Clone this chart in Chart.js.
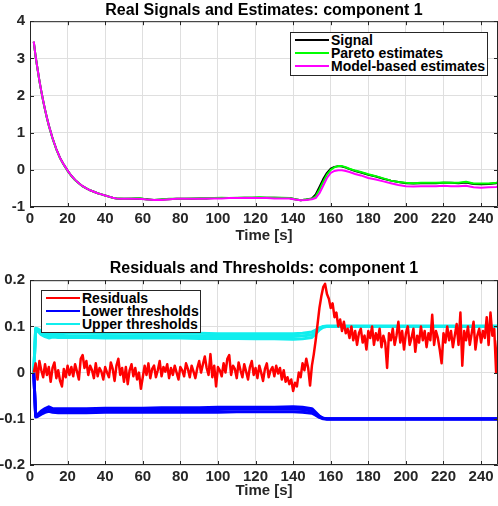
<!DOCTYPE html>
<html>
<head>
<meta charset="utf-8">
<script src="https://cdn.jsdelivr.net/npm/chart.js@4/dist/chart.umd.min.js"></script>
<style>
    body { margin: 0; background: #fff; }
    .painel { position: absolute; left: 0; width: 498px; height: 253px; }
    .legenda { position: absolute; box-sizing: border-box; border: 1px solid #262626; background: #fff;
               font: bold 14px "Liberation Sans", Arial, sans-serif; color: #000; }
    .legenda .linha { position: absolute; left: 4px; width: 34px; height: 2px; }
    .legenda .texto { position: absolute; left: 40px; height: 16px; line-height: 16px; white-space: nowrap; }
</style>
</head>
<body>
<div class="painel" style="top:0"><canvas id="graficoSinais" width="498" height="253"></canvas></div>
<div class="painel" style="top:253px"><canvas id="graficoResiduos" width="498" height="253"></canvas></div>
<div id="legendaSinais" class="legenda" style="left:290px; top:32px; width:198px; height:44px"></div>
<div id="legendaResiduos" class="legenda" style="left:41px; top:290px; width:160px; height:43px"></div>
<script>
    /**
     * Dados
     */
    var tempoSinais = [2, 3, 4, 5, 6, 7, 8, 9, 10,
        12, 14, 16, 18, 20, 22, 24, 26, 28, 30, 32, 34, 36, 38, 40, 42, 44, 46, 48, 50,
        54, 58, 62, 66, 70, 74, 78, 82, 86, 90, 94, 98, 102, 106, 110, 114, 118, 122, 126, 130, 134, 138,
        141, 144, 147, 150,
        152, 154, 156, 158, 160, 162, 164, 166, 168, 170, 173, 176,
        180, 184, 188, 192, 196, 200, 204, 208, 212, 216, 220, 224, 228, 232, 236, 240, 244, 248, 249];

    var sinal = [3.45, 3.05, 2.72, 2.40, 2.12, 1.86, 1.62, 1.40, 1.20,
        0.85, 0.56, 0.32, 0.14, -0.02, -0.16, -0.27, -0.36, -0.44, -0.50, -0.55, -0.59, -0.63, -0.66, -0.69, -0.72, -0.75, -0.77, -0.78, -0.78,
        -0.78, -0.77, -0.79, -0.81, -0.80, -0.79, -0.78, -0.78, -0.78, -0.77, -0.77, -0.76, -0.76, -0.76, -0.76, -0.75, -0.75, -0.75, -0.75, -0.75, -0.76, -0.76,
        -0.79, -0.82, -0.80, -0.77,
        -0.66, -0.46, -0.25, -0.08, 0.03, 0.08, 0.10, 0.09, 0.06, 0.02, -0.03, -0.07,
        -0.13, -0.18, -0.24, -0.29, -0.33, -0.36, -0.37, -0.36, -0.36, -0.36, -0.35, -0.35, -0.36, -0.34, -0.38, -0.39, -0.38, -0.36, -0.35];

    var estimativaPareto = [3.44, 3.04, 2.71, 2.39, 2.11, 1.85, 1.61, 1.39, 1.19,
        0.84, 0.55, 0.31, 0.13, -0.03, -0.17, -0.28, -0.36, -0.45, -0.50, -0.55, -0.59, -0.63, -0.66, -0.69, -0.72, -0.75, -0.77, -0.77, -0.78,
        -0.77, -0.76, -0.80, -0.81, -0.80, -0.78, -0.78, -0.78, -0.77, -0.77, -0.76, -0.76, -0.75, -0.76, -0.75, -0.75, -0.75, -0.74, -0.75, -0.75, -0.75, -0.76,
        -0.79, -0.82, -0.80, -0.78,
        -0.71, -0.53, -0.32, -0.13, 0.00, 0.07, 0.10, 0.10, 0.07, 0.03, -0.02, -0.06,
        -0.12, -0.17, -0.23, -0.29, -0.33, -0.35, -0.36, -0.35, -0.35, -0.35, -0.34, -0.35, -0.35, -0.32, -0.37, -0.37, -0.37, -0.35, -0.34];

    var estimativaModelo = [3.45, 3.05, 2.72, 2.40, 2.12, 1.86, 1.62, 1.40, 1.20,
        0.85, 0.56, 0.32, 0.14, -0.02, -0.16, -0.27, -0.36, -0.44, -0.50, -0.55, -0.59, -0.63, -0.66, -0.69, -0.72, -0.75, -0.77, -0.78, -0.78,
        -0.78, -0.78, -0.80, -0.81, -0.81, -0.79, -0.78, -0.78, -0.78, -0.78, -0.77, -0.77, -0.77, -0.76, -0.76, -0.76, -0.76, -0.76, -0.76, -0.77, -0.77, -0.77,
        -0.80, -0.82, -0.81, -0.79,
        -0.76, -0.63, -0.43, -0.22, -0.08, -0.03, -0.01, -0.01, -0.03, -0.06, -0.11, -0.15,
        -0.22, -0.26, -0.31, -0.36, -0.41, -0.44, -0.45, -0.44, -0.44, -0.44, -0.43, -0.44, -0.44, -0.43, -0.47, -0.48, -0.47, -0.46, -0.45];

    // residuos amostrados a cada 1 s a partir de t = 2 s
    var inicioResiduos = 2;
    var residuos = [
        0.000, 0.020, -0.015, 0.025, 0.005, -0.010, 0.018, -0.005, 0.012, -0.020,
        0.010, 0.022, -0.012, 0.005, -0.018, -0.030, 0.008, -0.010, 0.015, -0.005,
        0.012, -0.008, 0.018, 0.002, -0.015, 0.030, 0.038, 0.010, 0.025, -0.005,
        0.015, 0.005, -0.012, 0.020, -0.008, 0.010, 0.002, -0.015, 0.012, 0.000,
        -0.010, 0.022, 0.008, -0.018, 0.015, 0.030, -0.005, 0.010, -0.020, 0.012,
        -0.025, 0.005, 0.018, -0.008, 0.010, -0.015, 0.000, -0.035, -0.010, 0.015,
        -0.005, 0.020, -0.012, 0.008, 0.015, -0.010, 0.005, 0.025, -0.008, 0.012,
        0.002, 0.018, -0.012, 0.010, -0.005, 0.015, 0.000, -0.015, 0.012, 0.005,
        -0.008, 0.020, 0.008, -0.010, 0.015, 0.002, -0.012, 0.010, 0.025, 0.000,
        0.018, 0.035, 0.010, -0.005, 0.040, -0.010, 0.015, -0.030, 0.012, 0.005,
        -0.008, 0.020, 0.000, 0.030, 0.038, -0.005, 0.015, 0.008, -0.012, 0.022,
        0.005, -0.010, 0.018, 0.002, -0.015, 0.012, 0.025, -0.005, 0.010, -0.012,
        0.015, 0.000, -0.018, 0.008, 0.020, -0.010, 0.005, 0.012, -0.008, 0.015,
        -0.002, 0.010, -0.015, 0.005, -0.020, -0.010, -0.025, -0.015, -0.040, -0.022,
        -0.030, 0.000, -0.010, 0.020, 0.005, 0.030, 0.010, -0.028, 0.015, 0.040,
        0.070, 0.105, 0.140, 0.165, 0.185, 0.192, 0.170, 0.160, 0.140, 0.150,
        0.120, 0.130, 0.100, 0.115, 0.090, 0.110, 0.085, 0.095, 0.075, 0.100,
        0.070, 0.090, 0.060, 0.085, 0.095, 0.065, 0.080, 0.050, 0.090, 0.075,
        0.100, 0.060, 0.085, 0.070, 0.095, 0.055, 0.080, 0.065, 0.010, 0.085,
        0.070, 0.095, 0.060, 0.080, 0.110, 0.065, 0.090, 0.050, 0.085, 0.100,
        0.060, 0.075, 0.095, 0.045, 0.080, 0.065, 0.100, 0.070, 0.090, 0.055,
        0.085, 0.070, 0.125, 0.060, 0.090, 0.075, 0.050, 0.020, 0.085, 0.065,
        0.100, 0.070, 0.090, 0.055, 0.080, 0.105, 0.060, 0.130, 0.015, 0.090,
        0.070, 0.100, 0.060, 0.085, 0.110, 0.050, 0.080, 0.095, 0.065, 0.090,
        0.075, 0.120, 0.060, 0.130, 0.080, 0.095, 0.000, 0.070];

    var tempoLimiares = [2, 3, 4, 6, 8, 10, 12, 15, 20, 30, 40, 50, 60, 70, 80, 90, 100, 110, 120, 130, 140, 145, 150, 152, 154, 156, 158, 160, 200, 249];

    var limiarSuperior1 = [0.000, 0.096, 0.095, 0.090, 0.087, 0.085, 0.087, 0.086, 0.086, 0.086, 0.085, 0.085, 0.085, 0.085, 0.085, 0.085, 0.084, 0.084, 0.084, 0.084, 0.084, 0.085, 0.088, 0.092, 0.097, 0.100, 0.101, 0.101, 0.101, 0.101];
    var limiarSuperior2 = [0.000, 0.094, 0.093, 0.086, 0.083, 0.080, 0.082, 0.081, 0.080, 0.080, 0.080, 0.079, 0.080, 0.080, 0.079, 0.079, 0.079, 0.078, 0.078, 0.078, 0.078, 0.079, 0.082, 0.088, 0.095, 0.099, 0.100, 0.100, 0.100, 0.100];
    var limiarSuperior3 = [0.000, 0.092, 0.090, 0.082, 0.078, 0.075, 0.077, 0.076, 0.076, 0.076, 0.075, 0.075, 0.075, 0.075, 0.075, 0.074, 0.074, 0.074, 0.073, 0.073, 0.072, 0.073, 0.076, 0.084, 0.093, 0.098, 0.100, 0.100, 0.100, 0.100];

    var limiarInferior1 = [0.000, -0.096, -0.095, -0.090, -0.086, -0.084, -0.086, -0.087, -0.087, -0.087, -0.086, -0.086, -0.086, -0.086, -0.086, -0.086, -0.086, -0.085, -0.085, -0.085, -0.085, -0.086, -0.088, -0.092, -0.097, -0.100, -0.101, -0.101, -0.101, -0.101];
    var limiarInferior2 = [0.000, -0.094, -0.093, -0.086, -0.082, -0.078, -0.082, -0.082, -0.082, -0.082, -0.081, -0.081, -0.081, -0.080, -0.080, -0.080, -0.080, -0.079, -0.079, -0.079, -0.079, -0.080, -0.083, -0.089, -0.096, -0.099, -0.100, -0.100, -0.100, -0.100];
    var limiarInferior3 = [0.000, -0.092, -0.091, -0.083, -0.078, -0.074, -0.078, -0.078, -0.078, -0.078, -0.077, -0.077, -0.077, -0.076, -0.076, -0.076, -0.075, -0.075, -0.075, -0.075, -0.074, -0.075, -0.078, -0.086, -0.094, -0.099, -0.100, -0.100, -0.100, -0.100];

    var legendaSinais = ['Signal', 'Pareto estimates', 'Model-based estimates'];
    var legendaResiduos = ['Residuals', 'Lower thresholds', 'Upper thresholds'];

    var COR_EIXO = '#262626';
    var FONTE = '"Liberation Sans", Arial, sans-serif';

    /**
     * Metodos auxiliares
     */
    var montarPontos = function (tempos, valores) {
        return valores.map(function (v, i) { return { x: tempos[i], y: v }; });
    };

    var serie = function (dados, cor, largura) {
        return {
            data: dados,
            borderColor: cor,
            borderWidth: largura,
            borderJoinStyle: 'round',
            pointRadius: 0,
            tension: 0,
            fill: false
        };
    };

    // moldura fechada e marcas de tick para dentro, como no MATLAB
    var molduraEixos = {
        id: 'molduraEixos',
        afterDraw: function (chart) {
            var ctx = chart.ctx;
            var a = chart.chartArea;
            var sx = chart.scales.x;
            var sy = chart.scales.y;

            ctx.save();
            ctx.strokeStyle = COR_EIXO;
            ctx.lineWidth = 1;
            ctx.beginPath();
            sx.ticks.forEach(function (t) {
                var px = Math.round(sx.getPixelForValue(t.value)) + 0.5;
                ctx.moveTo(px, a.bottom); ctx.lineTo(px, a.bottom - 4);
                ctx.moveTo(px, a.top); ctx.lineTo(px, a.top + 4);
            });
            sy.ticks.forEach(function (t) {
                var py = Math.round(sy.getPixelForValue(t.value)) + 0.5;
                ctx.moveTo(a.left, py); ctx.lineTo(a.left + 4, py);
                ctx.moveTo(a.right, py); ctx.lineTo(a.right - 4, py);
            });
            ctx.rect(a.left + 0.5, a.top + 0.5, a.right - a.left - 1, a.bottom - a.top - 1);
            ctx.stroke();
            ctx.restore();
        }
    };

    var criarGrafico = function (id, datasets, titulo, yMin, yMax, yPasso, layout) {
        return new Chart(document.getElementById(id), {
            type: 'line',
            data: { datasets: datasets },
            plugins: [molduraEixos],
            options: {
                responsive: false,
                animation: false,
                devicePixelRatio: 1,
                layout: { padding: 0 },
                plugins: {
                    legend: { display: false },
                    tooltip: { enabled: false },
                    title: {
                        display: true,
                        text: titulo,
                        fullSize: false,
                        color: '#000',
                        font: { family: FONTE, size: 16, weight: 'bold' },
                        padding: { top: layout.tituloTopo, bottom: layout.tituloBase }
                    }
                },
                scales: {
                    x: {
                        type: 'linear',
                        min: 0,
                        max: 249,
                        border: { display: false },
                        grid: { color: '#dfdfdf', drawTicks: false },
                        ticks: {
                            stepSize: 20,
                            includeBounds: false,
                            padding: 3,
                            color: COR_EIXO,
                            font: { family: FONTE, size: 15, weight: 'bold' }
                        },
                        title: {
                            display: true,
                            text: 'Time [s]',
                            color: COR_EIXO,
                            font: { family: FONTE, size: 15, weight: 'bold' },
                            padding: { top: 0, bottom: layout.eixoXBase }
                        },
                        afterFit: function (s) { s.height = layout.eixoXAltura; }
                    },
                    y: {
                        min: yMin,
                        max: yMax,
                        border: { display: false },
                        grid: { color: '#dfdfdf', drawTicks: false },
                        ticks: {
                            stepSize: yPasso,
                            padding: 5,
                            color: COR_EIXO,
                            font: { family: FONTE, size: 15, weight: 'bold' }
                        },
                        afterFit: function (s) { s.width = 30; }
                    }
                }
            }
        });
    };

    var montarLegenda = function (id, rotulos, cores, centros) {
        var caixa = document.getElementById(id);
        for (var i = 0; i < rotulos.length; i++) {
            var linha = document.createElement('div');
            linha.className = 'linha';
            linha.style.top = (centros[i] - 2) + 'px';
            linha.style.background = cores[i];
            caixa.appendChild(linha);

            var texto = document.createElement('div');
            texto.className = 'texto';
            texto.style.top = (centros[i] - 9) + 'px';
            texto.textContent = rotulos[i];
            caixa.appendChild(texto);
        }
    };

    /**
     * Montagem
     */
    criarGrafico('graficoSinais', [
        serie(montarPontos(tempoSinais, estimativaModelo), '#ff00ff', 2),
        serie(montarPontos(tempoSinais, estimativaPareto), '#00ff00', 2),
        serie(montarPontos(tempoSinais, sinal), '#000000', 2)
    ], 'Real Signals and Estimates: component 1', -1, 4, 1,
        { tituloTopo: 1, tituloBase: 1, eixoXAltura: 46, eixoXBase: 8 });

    var tempoResiduos = residuos.map(function (v, i) { return inicioResiduos + i; });

    criarGrafico('graficoResiduos', [
        serie(montarPontos(tempoResiduos, residuos), '#ff0000', 2.5),
        serie(montarPontos(tempoLimiares, limiarSuperior1), '#10eeee', 3),
        serie(montarPontos(tempoLimiares, limiarSuperior2), '#10eeee', 3),
        serie(montarPontos(tempoLimiares, limiarSuperior3), '#10eeee', 3),
        serie(montarPontos(tempoLimiares, limiarInferior1), '#0000ff', 3),
        serie(montarPontos(tempoLimiares, limiarInferior2), '#0000ff', 3),
        serie(montarPontos(tempoLimiares, limiarInferior3), '#0000ff', 3)
    ], 'Residuals and Thresholds: component 1', -0.2, 0.2, 0.1,
        { tituloTopo: 6, tituloBase: 2, eixoXAltura: 41, eixoXBase: 6 });

    montarLegenda('legendaSinais', legendaSinais, ['#000000', '#00ff00', '#ff00ff'], [8, 21, 34]);
    montarLegenda('legendaResiduos', legendaResiduos, ['#ff0000', '#0000ff', '#10eeee'], [8, 21, 34]);
</script>
</body>
</html>
